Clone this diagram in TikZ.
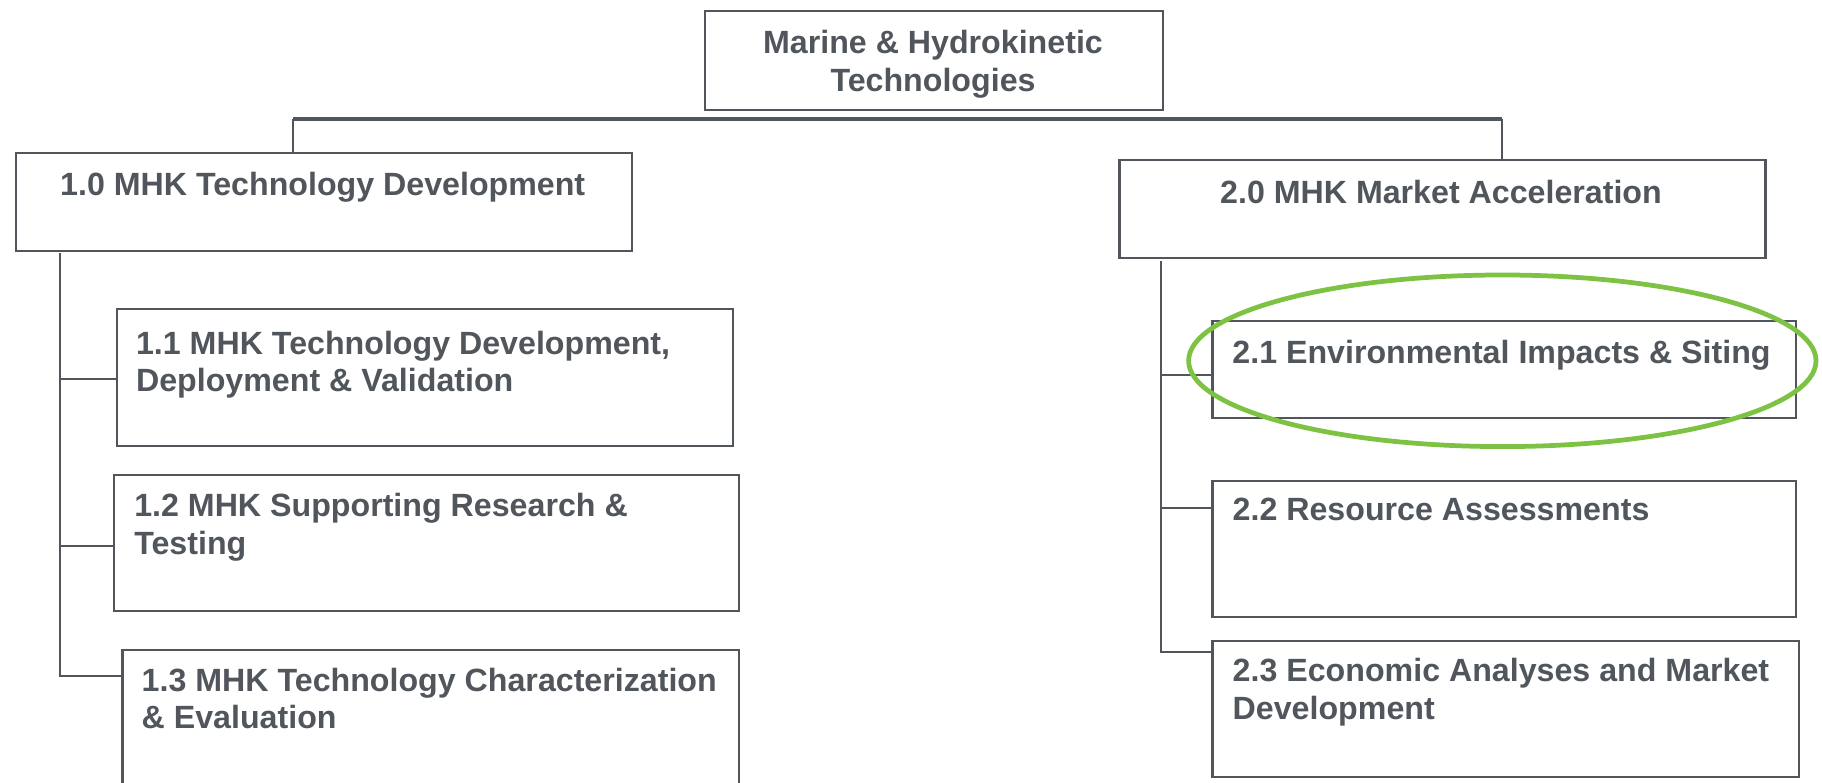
\documentclass[tikz,border=0pt]{standalone}
\usepackage{fontspec}
\setmainfont{Liberation Sans}
\usepackage{tikz}
\usetikzlibrary{positioning}
\definecolor{wbsgray}{HTML}{51565D}
\definecolor{wbsgreen}{HTML}{7DC242}
\newcommand{\wbsfont}{\fontsize{9.15}{10.8}\selectfont\bfseries}

\tikzset{
  wbsbox/.style={draw=wbsgray,line width=0.6pt,rectangle,inner sep=0pt,anchor=north west},
  wbstext/.style={text=wbsgray,font=\wbsfont,inner sep=0pt,anchor=north west,align=left},
  link/.style={draw=wbsgray,line width=0.55pt},
  bus/.style={draw=wbsgray,line width=0.9pt},
  hilite/.style={draw=wbsgreen,line width=1.35pt}
}

\begin{document}
\begin{tikzpicture}[x=0.01cm,y=-0.01cm]
  \useasboundingbox (0,0) rectangle (1822,783);
  \clip (0,0) rectangle (1822,783);
  % top of the tree
  \node[wbsbox,minimum width=4.58cm,minimum height=0.99cm] (top) at (704,10) {};
  \node[wbstext,anchor=north,align=center] (toptxt) at (933,29.3) {Marine \& Hydrokinetic\\Technologies};
  % first level
  \node[wbsbox,minimum width=6.165cm,minimum height=0.975cm] (b10) at (14.5,152) {};
  \node[wbstext,anchor=north,align=center] (b10txt) at (322.7,171.7) {1.0 MHK Technology Development};
  \node[wbsbox,minimum width=6.456cm,minimum height=0.98cm] (b20) at (1118.4,159) {};
  \node[wbstext,anchor=north,align=center] (b20txt) at (1441,179) {2.0 MHK Market Acceleration};
  % second level, left
  \node[wbsbox,minimum width=6.164cm,minimum height=1.367cm] (b11) at (115.6,308) {};
  \node[wbstext] (b11txt) at (135.4,330) {1.1 MHK Technology Development,\\Deployment \& Validation};
  \node[wbsbox,minimum width=6.25cm,minimum height=1.363cm] (b12) at (113,473.7) {};
  \node[wbstext] (b12txt) at (133.6,492.5) {1.2 MHK Supporting Research \&\\Testing};
  \node[wbsbox,minimum width=6.166cm,minimum height=1.6cm] (b13) at (121.4,649) {};
  \node[wbstext] (b13txt) at (141,667) {1.3 MHK Technology Characterization\\\& Evaluation};
  % second level, right
  \node[wbsbox,minimum width=5.836cm,minimum height=0.973cm] (b21) at (1211.4,320) {};
  \node[wbstext] (b21txt) at (1231.7,339) {2.1 Environmental Impacts \& Siting};
  \node[wbsbox,minimum width=5.836cm,minimum height=1.36cm] (b22) at (1211.4,480) {};
  \node[wbstext] (b22txt) at (1232,497.5) {2.2 Resource Assessments};
  \node[wbsbox,minimum width=5.866cm,minimum height=1.363cm] (b23) at (1211.4,639.7) {};
  \node[wbstext] (b23txt) at (1232,657.5) {2.3 Economic Analyses and Market\\Development};
  % bus between the two branches
  \coordinate (busL) at (293,119);
  \coordinate (busR) at (1502,119);
  \draw[bus] (busL) -- (busR);
  \draw[link] (busL) -- (busL |- b10.north);
  \draw[link] (busR) -- (busR |- b20.north);
  % left trunk
  \coordinate (trunkL) at (60,252.7);
  \draw[link] (trunkL) |- (b13.west |- 0,676);
  \draw[link] (trunkL |- 0,379) -- (b11.west |- 0,379);
  \draw[link] (trunkL |- 0,546) -- (b12.west |- 0,546);
  % right trunk
  \coordinate (trunkR) at (1161.4,261);
  \draw[link] (trunkR) |- (b23.west |- 0,651.7);
  \draw[link] (trunkR |- 0,375) -- (b21.west |- 0,375);
  \draw[link] (trunkR |- 0,507.7) -- (b22.west |- 0,507.7);
  % highlight round 2.1
  \draw[hilite] (1502.3,360.8) ellipse [x radius=313.7,y radius=85.8];
\end{tikzpicture}
\end{document}
